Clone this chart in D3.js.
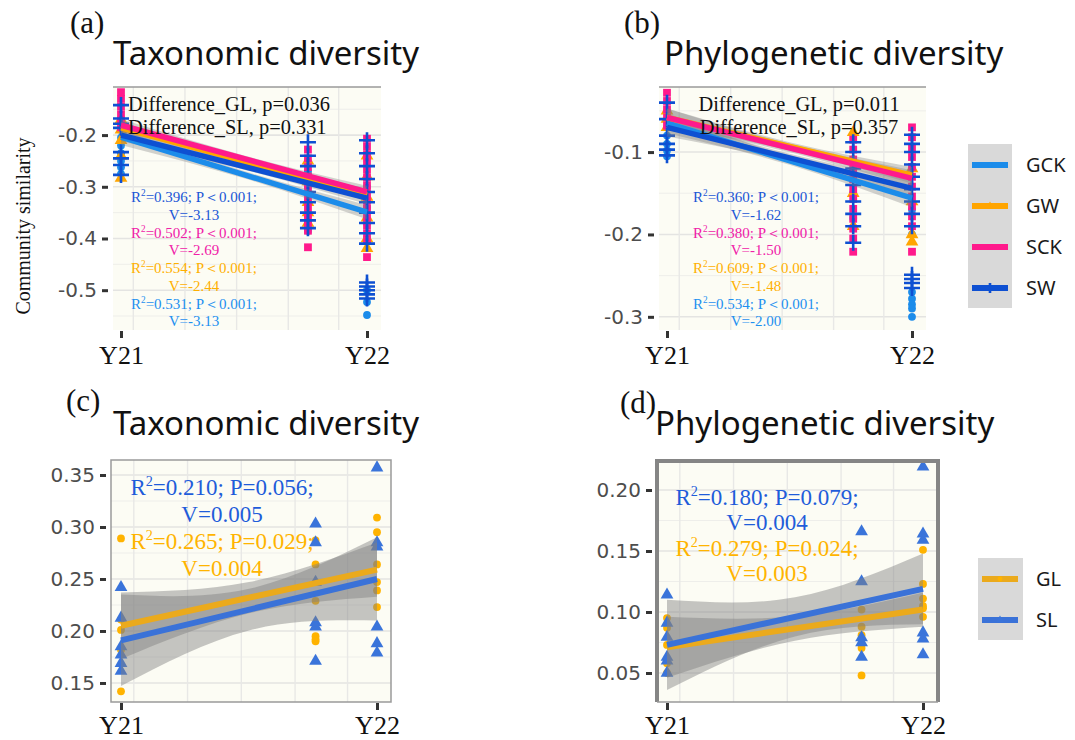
<!DOCTYPE html>
<html>
<head>
<meta charset="utf-8">
<script src="https://cdn.jsdelivr.net/npm/d3@7"></script>
<style>
  body { margin: 0; background: #fff; }
</style>
</head>
<body>
<script>
// ---------------- data ----------------
var timePos = [0, 0.76, 1];          // sampling times (Y21 = 0, Y22 = 1)
var timeLabels = ["Y21", "Y22"];

var groupsTop = ["GCK", "GW", "SCK", "SW"];
var groupsBottom = ["GL", "SL"];

// (a) taxonomic, community similarity per group, per sampling time
var aGCK = [[-0.19, -0.205, -0.22, -0.235, -0.25, -0.262, -0.275],
            [-0.27, -0.30, -0.33, -0.355, -0.37, -0.385],
            [-0.30, -0.34, -0.37, -0.40, -0.50, -0.523, -0.548]];
var aGW  = [[-0.17, -0.19, -0.21, -0.24, -0.283],
            [-0.25, -0.29, -0.33, -0.35, -0.37],
            [-0.24, -0.28, -0.32, -0.36, -0.40, -0.419]];
var aSCK = [[-0.117, -0.13, -0.145, -0.16, -0.172, -0.185],
            [-0.228, -0.245, -0.262, -0.28, -0.295, -0.31, -0.325, -0.34, -0.355, -0.37, -0.385, -0.417],
            [-0.207, -0.222, -0.237, -0.252, -0.267, -0.282, -0.297, -0.312, -0.327, -0.342, -0.36, -0.375, -0.39, -0.405, -0.436]];
var aSW  = [[-0.142, -0.168, -0.178, -0.186, -0.233, -0.245, -0.258, -0.277],
            [-0.214, -0.24, -0.26, -0.29, -0.31, -0.33, -0.35, -0.365, -0.38],
            [-0.21, -0.235, -0.26, -0.285, -0.31, -0.33, -0.35, -0.37, -0.39, -0.41, -0.485, -0.493, -0.50, -0.508, -0.516]];
var aFit  = [[-0.204, -0.349], [-0.186, -0.316], [-0.181, -0.310], [-0.200, -0.322]];
var aBand = [[0.015, 0.007, 0.014], [0.012, 0.006, 0.012], [0.012, 0.006, 0.012], [0.012, 0.006, 0.012]];

// (b) phylogenetic
var bGCK = [[-0.08, -0.09, -0.098, -0.105],
            [-0.12, -0.15, -0.18],
            [-0.17, -0.20, -0.27, -0.278, -0.285, -0.29, -0.30]];
var bGW  = [[-0.05, -0.06, -0.07],
            [-0.076, -0.11, -0.15, -0.19],
            [-0.12, -0.16, -0.20, -0.209]];
var bSCK = [[-0.028, -0.038, -0.048, -0.058, -0.068],
            [-0.085, -0.097, -0.109, -0.121, -0.133, -0.145, -0.157, -0.169, -0.181, -0.193, -0.205, -0.221],
            [-0.07, -0.082, -0.094, -0.106, -0.118, -0.13, -0.142, -0.154, -0.166, -0.178, -0.19, -0.221]];
var bSW  = [[-0.04, -0.06, -0.08, -0.09, -0.097, -0.104],
            [-0.088, -0.10, -0.12, -0.14, -0.16, -0.175, -0.19, -0.21],
            [-0.079, -0.09, -0.10, -0.115, -0.13, -0.145, -0.16, -0.175, -0.19, -0.249, -0.254, -0.259, -0.265]];
var bFit  = [[-0.065, -0.156], [-0.058, -0.128], [-0.058, -0.132], [-0.070, -0.144]];
var bBand = [[0.012, 0.005, 0.011], [0.011, 0.005, 0.010], [0.011, 0.005, 0.010], [0.011, 0.005, 0.010]];

// (c) taxonomic, GL / SL
var cGL = [[0.289, 0.211, 0.201, 0.182, 0.142],
           [0.287, 0.264, 0.229, 0.195, 0.192, 0.19],
           [0.309, 0.295, 0.264, 0.247, 0.239, 0.223]];
var cSL = [[0.242, 0.2125, 0.185, 0.177, 0.169, 0.1615],
           [0.303, 0.285, 0.247, 0.208, 0.204, 0.171],
           [0.357, 0.285, 0.281, 0.204, 0.188, 0.179]];
var cFit  = [[0.205, 0.259], [0.191, 0.250]];
var cBand = [[0.032, 0.015, 0.026], [0.044, 0.02, 0.04]];

// (d) phylogenetic, GL / SL
var dGL = [[0.095, 0.087, 0.073, 0.058, 0.05],
           [0.102, 0.088, 0.081, 0.0705, 0.048],
           [0.151, 0.123, 0.111, 0.105, 0.103, 0.096]];
var dSL = [[0.114, 0.091, 0.0795, 0.063, 0.06, 0.05],
           [0.166, 0.125, 0.079, 0.075, 0.063],
           [0.219, 0.164, 0.159, 0.083, 0.078, 0.065]];
var dFit  = [[0.071, 0.102], [0.073, 0.119]];
var dBand = [[0.025, 0.01, 0.014], [0.037, 0.016, 0.029]];

// text annotations
var aDiff = ["Difference_GL, p=0.036", "Difference_SL, p=0.331"];
var bDiff = ["Difference_GL, p=0.011", "Difference_SL, p=0.357"];
var statGroupsTop = ["SW", "SCK", "GW", "GCK"];
var aStats = [["=0.396; P\uFF1C0.001;", "V=-3.13"], ["=0.502; P\uFF1C0.001;", "V=-2.69"],
              ["=0.554; P\uFF1C0.001;", "V=-2.44"], ["=0.531; P\uFF1C0.001;", "V=-3.13"]];
var bStats = [["=0.360; P\uFF1C0.001;", "V=-1.62"], ["=0.380; P\uFF1C0.001;", "V=-1.50"],
              ["=0.609; P\uFF1C0.001;", "V=-1.48"], ["=0.534; P\uFF1C0.001;", "V=-2.00"]];
var statGroupsBottom = ["SL", "GL"];
var cStats = [["=0.210; P=0.056;", "V=0.005"], ["=0.265; P=0.029;", "V=0.004"]];
var dStats = [["=0.180; P=0.079;", "V=0.004"], ["=0.279; P=0.024;", "V=0.003"]];

var aTicks = [-0.5, -0.4, -0.3, -0.2];
var bTicks = [-0.3, -0.2, -0.1];
var cTicks = [0.15, 0.20, 0.25, 0.30, 0.35];
var dTicks = [0.05, 0.10, 0.15, 0.20];
var gridX = [0.05, 0.26, 0.47, 0.68, 0.885];

// ---------------- styles ----------------
var color = {GCK: "#1C8CEA", GW: "#FFA500", SCK: "#FF1A8C", SW: "#0E50D2", GL: "#FFB300", SL: "#3A74DA"};
var lineColor = {GCK: "#1C8CEA", GW: "#FFA500", SCK: "#FF1A8C", SW: "#0E50D2", GL: "#EBAA1C", SL: "#3A72D8"};
var textColor = {GCK: "#1E90F0", GW: "#FFB000", SCK: "#F020A8", SW: "#1A56D6", GL: "#FFB400", SL: "#1F5CDA"};
var shape = {GCK: "circle", GW: "triangle", SCK: "square", SW: "plus", GL: "circle", SL: "triangle"};

var serif = "'Liberation Serif', 'Times New Roman', serif";
var sans = "'Noto Sans', 'Open Sans', sans-serif";

var svg = d3.select("body").append("svg")
    .attr("width", 1075)
    .attr("height", 740)
    .style("background", "#fff");

function marker(g, type, cx, cy, col, s) {
    if (type === "plus") {
        g.append("path")
            .attr("d", "M" + (cx - s) + "," + cy + "H" + (cx + s) + "M" + cx + "," + (cy - s) + "V" + (cy + s))
            .attr("stroke", col).attr("stroke-width", 2.6).attr("fill", "none");
        return;
    }
    var sym = {circle: d3.symbolCircle, triangle: d3.symbolTriangle, square: d3.symbolSquare}[type];
    var area = {circle: s * s * 0.75, triangle: s * s * 1.1, square: s * s * 0.95}[type];
    g.append("path")
        .attr("d", d3.symbol().type(sym).size(area)())
        .attr("transform", "translate(" + cx + "," + cy + ")")
        .attr("fill", col);
}

function drawPanel(p) {
    var x = d3.scaleLinear().domain([0, 1]).range(p.xr);
    var y = d3.scaleLinear().domain(p.yDom).range([p.bottom, p.top]);
    var g = svg.append("g");

    // background
    g.append("rect")
        .attr("x", p.left).attr("y", p.top)
        .attr("width", p.right - p.left).attr("height", p.bottom - p.top)
        .attr("fill", "#fcfcf4");

    // grid
    var step = p.ticks[1] - p.ticks[0];
    var minor = [];
    for (var k = -1; k < p.ticks.length; k++) {
        var v = p.ticks[0] + (k + 0.5) * step;
        if (v > p.yDom[0] && v < p.yDom[1]) minor.push(v);
    }
    g.selectAll(".hmin").data(minor).enter().append("line")
        .attr("x1", p.left).attr("x2", p.right)
        .attr("y1", function(d) { return y(d); }).attr("y2", function(d) { return y(d); })
        .attr("stroke", "#eeeeea").attr("stroke-width", 1);
    g.selectAll(".hmaj").data(p.ticks).enter().append("line")
        .attr("x1", p.left).attr("x2", p.right)
        .attr("y1", function(d) { return y(d); }).attr("y2", function(d) { return y(d); })
        .attr("stroke", "#e4e4e2").attr("stroke-width", 1.6);
    g.selectAll(".vg").data(gridX).enter().append("line")
        .attr("y1", p.top).attr("y2", p.bottom)
        .attr("x1", function(d) { return x(d); }).attr("x2", function(d) { return x(d); })
        .attr("stroke", "#e8e8e6").attr("stroke-width", 1.4);

    // points
    var pg = g.append("g");
    p.groups.forEach(function(name, gi) {
        p.points[gi].forEach(function(vals, ti) {
            vals.forEach(function(v) {
                marker(pg, shape[name], x(timePos[ti]), y(v), color[name], p.markSize);
            });
        });
    });

    // confidence bands
    var area = d3.area()
        .x(function(d) { return x(d.t); })
        .y0(function(d) { return y(d.lo); })
        .y1(function(d) { return y(d.hi); })
        .curve(d3.curveNatural);
    p.groups.forEach(function(name, gi) {
        var f = p.fits[gi];
        var pts = [0, 0.5, 1].map(function(t, i) {
            var m = f[0] + (f[1] - f[0]) * t;
            return {t: t, lo: m - p.bands[gi][i], hi: m + p.bands[gi][i]};
        });
        g.append("path").attr("d", area(pts))
            .attr("fill", "rgb(128,128,128)").attr("fill-opacity", p.bandAlpha);
    });

    // fitted lines
    p.lineOrder.forEach(function(name) {
        var gi = p.groups.indexOf(name);
        var f = p.fits[gi];
        g.append("line")
            .attr("x1", x(0)).attr("y1", y(f[0]))
            .attr("x2", x(1)).attr("y2", y(f[1]))
            .attr("stroke", lineColor[name]).attr("stroke-width", p.lineW);
    });

    // axes
    var yAxis = d3.axisLeft(y).tickValues(p.ticks).tickSize(6).tickPadding(5)
        .tickFormat(function(d) { return d.toFixed(p.dec); });
    var ya = svg.append("g").attr("transform", "translate(" + (p.left - 5) + ",0)").call(yAxis);
    ya.select(".domain").remove();
    ya.selectAll("line").attr("stroke", "#333").attr("stroke-width", 3);
    ya.selectAll("text").attr("fill", "#4d4d4d").style("font-family", "'DejaVu Sans', sans-serif").style("font-size", "20px");

    var xAxis = d3.axisBottom(x).tickValues([0, 1]).tickSize(7).tickPadding(p.xPad)
        .tickFormat(function(d, i) { return timeLabels[i]; });
    var xa = svg.append("g").attr("transform", "translate(0," + (p.bottom + 1) + ")").call(xAxis);
    xa.select(".domain").remove();
    xa.selectAll("line").attr("stroke", "#333").attr("stroke-width", 3);
    xa.selectAll("text").attr("fill", "#111").style("font-family", serif).style("font-size", "26px");

    // titles
    svg.append("text").attr("x", p.tagX).attr("y", p.tagY).text(p.tag)
        .style("font-family", serif).style("font-size", "31px").attr("fill", "#111");
    svg.append("text").attr("x", p.titleX).attr("y", p.titleY).text(p.title)
        .style("font-family", sans).style("font-size", "33px").attr("fill", "#111");

    return {x: x, y: y, g: g};
}

function statText(cx, cy, lines, col, fs, gap) {
    var t1 = svg.append("text").attr("x", cx).attr("y", cy).attr("text-anchor", "middle")
        .style("font-family", serif).style("font-size", fs + "px").attr("fill", col);
    t1.append("tspan").text("R");
    t1.append("tspan").attr("dy", -fs * 0.38).style("font-size", (fs * 0.62) + "px").text("2");
    t1.append("tspan").attr("dy", fs * 0.38).text(lines[0]);
    svg.append("text").attr("x", cx).attr("y", cy + gap).attr("text-anchor", "middle")
        .style("font-family", serif).style("font-size", fs + "px").attr("fill", col)
        .text(lines[1]);
}

// ---------------- panel (a) ----------------
drawPanel({
    left: 113, right: 381, top: 87, bottom: 330, xr: [121, 367],
    yDom: [-0.577, -0.107], ticks: aTicks, dec: 1, xPad: 8,
    groups: groupsTop, points: [aGCK, aGW, aSCK, aSW], fits: aFit, bands: aBand,
    lineOrder: ["GCK", "GW", "SW", "SCK"], lineW: 5.5, markSize: 8, bandAlpha: 0.35,
    tag: "(a)", tagX: 70, tagY: 33, title: "Taxonomic diversity", titleX: 113, titleY: 65
});
svg.append("line").attr("x1", 113).attr("x2", 381).attr("y1", 87).attr("y2", 87)
    .attr("stroke", "#9a9a9a").attr("stroke-width", 1.5);
aDiff.forEach(function(s, i) {
    svg.append("text").attr("x", 128).attr("y", 111 + i * 23).text(s)
        .style("font-family", serif).style("font-size", "20.4px").attr("fill", "#111");
});
aStats.forEach(function(s, i) {
    statText(194, 202 + i * 35.5, s, textColor[statGroupsTop[i]], 15, 17.5);
});

// ---------------- panel (b) ----------------
drawPanel({
    left: 659, right: 926, top: 87, bottom: 330, xr: [667, 912],
    yDom: [-0.316, -0.021], ticks: bTicks, dec: 1, xPad: 8,
    groups: groupsTop, points: [bGCK, bGW, bSCK, bSW], fits: bFit, bands: bBand,
    lineOrder: ["GCK", "GW", "SW", "SCK"], lineW: 5.5, markSize: 8, bandAlpha: 0.35,
    tag: "(b)", tagX: 624, tagY: 33, title: "Phylogenetic diversity", titleX: 664, titleY: 65
});
svg.append("line").attr("x1", 659).attr("x2", 926).attr("y1", 87).attr("y2", 87)
    .attr("stroke", "#9a9a9a").attr("stroke-width", 1.5);
bDiff.forEach(function(s, i) {
    svg.append("text").attr("x", 799).attr("y", 111 + i * 23).attr("text-anchor", "middle").text(s)
        .style("font-family", serif).style("font-size", "20.4px").attr("fill", "#111");
});
bStats.forEach(function(s, i) {
    statText(756, 202 + i * 35.5, s, textColor[statGroupsTop[i]], 15, 17.5);
});

// y axis label
svg.append("text")
    .attr("transform", "translate(30,226) rotate(-90)")
    .attr("text-anchor", "middle")
    .text("Community similarity")
    .style("font-family", serif).style("font-size", "20px").attr("fill", "#111");

// legend (a)/(b)
var lg = svg.append("g");
lg.append("rect").attr("x", 968).attr("y", 144).attr("width", 44).attr("height", 164).attr("fill", "#d9d9d9");
groupsTop.forEach(function(name, i) {
    var yy = 165 + i * 41;
    lg.append("line").attr("x1", 972).attr("x2", 1008).attr("y1", yy).attr("y2", yy)
        .attr("stroke", lineColor[name]).attr("stroke-width", 6);
    marker(lg, shape[name], 990, yy, color[name], 5);
    lg.append("text").attr("x", 1026).attr("y", yy + 7).text(name)
        .style("font-family", sans).style("font-size", "20px").attr("fill", "#1a1a1a");
});

// ---------------- panel (c) ----------------
drawPanel({
    left: 111, right: 391, top: 460, bottom: 702, xr: [121, 377],
    yDom: [0.1317, 0.3644], ticks: cTicks, dec: 2, xPad: 6,
    groups: groupsBottom, points: [cGL, cSL], fits: cFit, bands: cBand,
    lineOrder: ["SL", "GL"], lineW: 6, markSize: 8, bandAlpha: 0.45,
    tag: "(c)", tagX: 66, tagY: 411, title: "Taxonomic diversity", titleX: 113, titleY: 435
});
svg.append("rect").attr("x", 111).attr("y", 460).attr("width", 280).attr("height", 242)
    .attr("fill", "none").attr("stroke", "#9a9a9a").attr("stroke-width", 1.5);
cStats.forEach(function(s, i) {
    statText(222, 495 + i * 54, s, textColor[statGroupsBottom[i]], 23, 27);
});

// ---------------- panel (d) ----------------
drawPanel({
    left: 657, right: 938, top: 461, bottom: 702, xr: [667, 923],
    yDom: [0.0262, 0.2238], ticks: dTicks, dec: 2, xPad: 6,
    groups: groupsBottom, points: [dGL, dSL], fits: dFit, bands: dBand,
    lineOrder: ["GL", "SL"], lineW: 6, markSize: 8, bandAlpha: 0.45,
    tag: "(d)", tagX: 620, tagY: 413, title: "Phylogenetic diversity", titleX: 655, titleY: 435
});
svg.append("path").attr("d", "M657,702V461H938V702")
    .attr("fill", "none").attr("stroke", "#858585").attr("stroke-width", 4);
svg.append("line").attr("x1", 657).attr("x2", 938).attr("y1", 702).attr("y2", 702)
    .attr("stroke", "#9a9a9a").attr("stroke-width", 1.5);
dStats.forEach(function(s, i) {
    statText(767, 505 + i * 51, s, textColor[statGroupsBottom[i]], 23, 25);
});

// legend (c)/(d)
var lg2 = svg.append("g");
lg2.append("rect").attr("x", 978).attr("y", 558).attr("width", 45).attr("height", 82).attr("fill", "#d9d9d9");
groupsBottom.forEach(function(name, i) {
    var yy = 579 + i * 41;
    lg2.append("line").attr("x1", 982).attr("x2", 1018).attr("y1", yy).attr("y2", yy)
        .attr("stroke", lineColor[name]).attr("stroke-width", 6);
    marker(lg2, shape[name], 1000, yy, color[name], 5);
    lg2.append("text").attr("x", 1036).attr("y", yy + 7).text(name)
        .style("font-family", sans).style("font-size", "20px").attr("fill", "#1a1a1a");
});
</script>
</body>
</html>
